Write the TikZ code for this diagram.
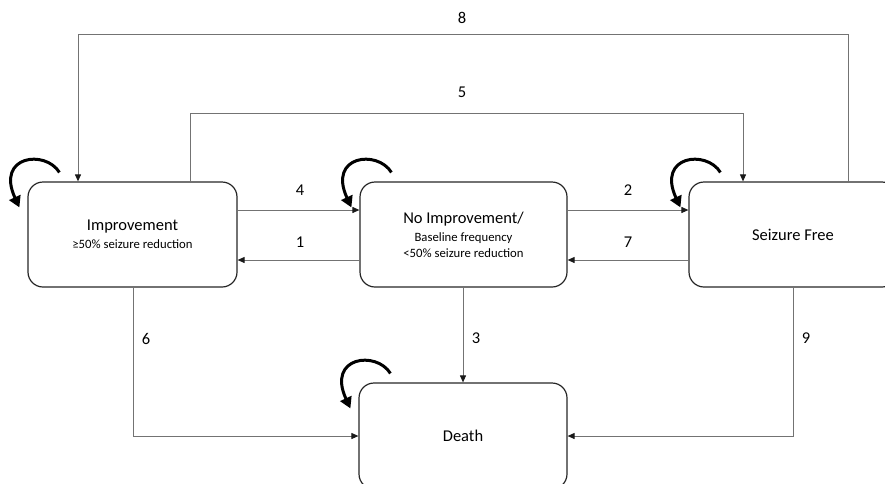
\documentclass[tikz,border=0pt]{standalone}
\usepackage{fontspec}
\setmainfont{Carlito}
\usetikzlibrary{arrows.meta,calc}
\begin{document}
\begin{tikzpicture}[x=1pt,y=-1pt,
  state/.style={draw=black!85,line width=1.2pt,rounded corners=15pt,minimum height=105pt,inner sep=0pt,align=center,font=\fontsize{16.5}{19}\selectfont},
  conn/.style={draw=black!55,line width=1pt,-{Triangle[length=7pt,width=6pt,color=black!90]}},
  lbl/.style={font=\fontsize{16.5}{19}\selectfont,inner sep=0pt},
  selfloop/.style={line width=3pt,black,-{Triangle[length=11pt,width=12pt]}}]
\useasboundingbox (0,0) rectangle (885,483);
\clip (0,0) rectangle (885,483);
\newcommand{\smalltxt}{\fontsize{12.7}{15}\selectfont}
% states
\node[state,minimum width=209pt] (imp) at (132.5,234.5) {Improvement\\[-1pt]{\smalltxt ≥50\% seizure reduction}};
\node[state,minimum width=207pt] (noimp) at (463.5,234.5) {No Improvement/\\[-1pt]{\smalltxt Baseline frequency}\\[-3pt]{\smalltxt <50\% seizure reduction}};
\node[state,minimum width=208pt] (sf) at (793,234.5) {Seizure Free};
\node[state,minimum width=208pt,minimum height=106pt] (death) at (463,436) {Death};
% helper coordinates
\coordinate (yA) at (0,210);
\coordinate (yB) at (0,260);
\coordinate (y5) at (0,113);
\coordinate (y8) at (0,34);
\coordinate (yD) at (0,436);
\coordinate (x5a) at (190,0);
\coordinate (x5b) at (743,0);
\coordinate (x8a) at (848,0);
\coordinate (x8b) at (78,0);
\coordinate (x3) at (463,0);
\coordinate (x6) at (133,0);
\coordinate (x9) at (793,0);
% connectors
\draw[conn] (imp.east |- yA) -- (noimp.west |- yA);
\draw[conn] (noimp.west |- yB) -- (imp.east |- yB);
\draw[conn] (noimp.east |- yA) -- (sf.west |- yA);
\draw[conn] (sf.west |- yB) -- (noimp.east |- yB);
\draw[conn] (x5a |- imp.north) -- (x5a |- y5) -- (x5b |- y5) -- (x5b |- sf.north);
\draw[conn] (x8a |- sf.north) -- (x8a |- y8) -- (x8b |- y8) -- (x8b |- imp.north);
\draw[conn] (x3 |- noimp.south) -- (x3 |- death.north);
\draw[conn] (x6 |- imp.south) -- (x6 |- yD) -- (death.west |- yD);
\draw[conn] (x9 |- sf.south) -- (x9 |- yD) -- (death.east |- yD);
% labels
\node[lbl] (l4) at (300,190) {4};
\node[lbl] (l1) at (300,242) {1};
\node[lbl] (l2) at (628,190) {2};
\node[lbl] (l7) at (628,242) {7};
\node[lbl] (l5) at (462,92) {5};
\node[lbl] (l8) at (462,18) {8};
\node[lbl] (l3) at (476,338) {3};
\node[lbl] (l6) at (146,339) {6};
\node[lbl] (l9) at (806,338) {9};
% self loops
\foreach \b in {imp,noimp,sf,death}{
  \draw[selfloop] ($(\b.north west)+(32,-9)$) .. controls ($(\b.north west)+(18,-32)$) and ($(\b.north west)+(-32,-26)$) .. ($(\b.north west)+(-8,26)$);
}
\end{tikzpicture}
\end{document}
